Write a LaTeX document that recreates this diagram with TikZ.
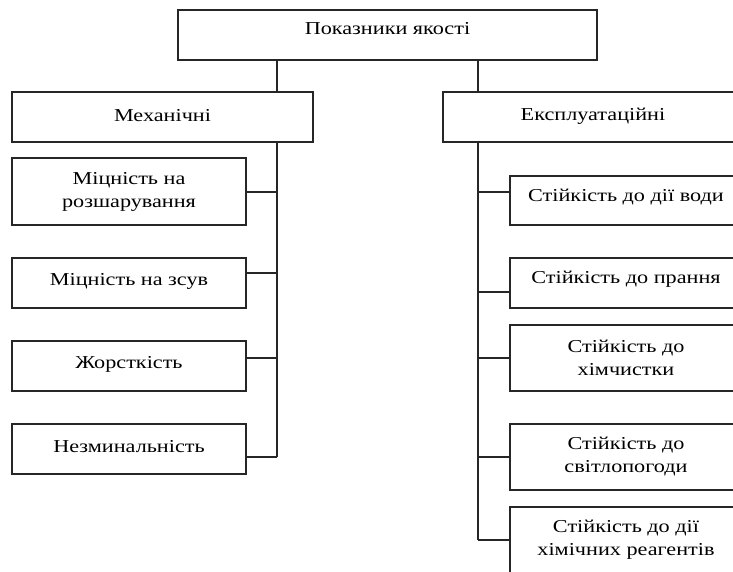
\documentclass[tikz,border=0pt]{standalone}
\usepackage{fontspec}
\setmainfont{Liberation Serif}[FakeStretch=1.22]
\begin{document}
\begin{tikzpicture}[x=1pt,y=-1pt,
  box/.style={draw=black!85,line width=1.1pt,align=center,inner sep=0pt,
    font=\fontsize{18.2}{23}\selectfont},
  tb/.style={text height=12pt,text depth=#1},
  conn/.style={draw=black!85,line width=1.1pt}]
\useasboundingbox (0,0) rectangle (733,571);
\clip (0,0) rectangle (733,571);
\node[box,tb=13pt,minimum width=419,minimum height=50] (top) at (387.5,35) {Показники якості};
\node[box,tb=3pt,minimum width=301,minimum height=50] (mech) at (162.5,117) {Механічні};
\node[box,tb=6pt,minimum width=300,minimum height=50] (eksp) at (593,117) {Експлуатаційні};
% left
\node[box,minimum width=234,minimum height=67] (l1) at (129,191.5) {Міцність на\\розшарування};
\node[box,tb=8pt,minimum width=234,minimum height=50] (l2) at (129,283) {Міцність на зсув};
\node[box,tb=7pt,minimum width=234,minimum height=50] (l3) at (129,366) {Жорсткість};
\node[box,tb=6pt,minimum width=234,minimum height=50] (l4) at (129,449) {Незминальність};
% right
\node[box,tb=11pt,minimum width=232,minimum height=49] (r1) at (626,200.5) {Стійкість до дії води};
\node[box,tb=11pt,minimum width=232,minimum height=50] (r2) at (626,283) {Стійкість до прання};
\node[box,minimum width=232,minimum height=66] (r3) at (626,358) {Стійкість до\\хімчистки};
\node[box,minimum width=232,minimum height=66] (r4) at (626,457) {Стійкість до\\світлопогоди};
\node[box,minimum width=232,minimum height=66] (r5) at (626,540) {Стійкість до дії\\хімічних реагентів};
% trunk coordinates
\coordinate (ta) at (277,60);
\coordinate (tb) at (478,60);
\coordinate (lt) at (277,142);
\coordinate (lb) at (277,457);
\coordinate (rt) at (478,142);
\coordinate (rb) at (478,540);
\draw[conn] (ta) -- (ta |- mech.north);
\draw[conn] (tb) -- (tb |- eksp.north);
\draw[conn] (lt) -- (lb);
\draw[conn] (rt) -- (rb);
% left branches
\coordinate (c1) at (277,192); \draw[conn] (c1) -- (c1 -| l1.east);
\coordinate (c2) at (277,273); \draw[conn] (c2) -- (c2 -| l2.east);
\coordinate (c3) at (277,358); \draw[conn] (c3) -- (c3 -| l3.east);
\coordinate (c4) at (277,457); \draw[conn] (c4) -- (c4 -| l4.east);
% right branches
\coordinate (d1) at (478,192); \draw[conn] (d1) -- (d1 -| r1.west);
\coordinate (d2) at (478,292); \draw[conn] (d2) -- (d2 -| r2.west);
\coordinate (d3) at (478,358); \draw[conn] (d3) -- (d3 -| r3.west);
\coordinate (d4) at (478,457); \draw[conn] (d4) -- (d4 -| r4.west);
\coordinate (d5) at (478,540); \draw[conn] (d5) -- (d5 -| r5.west);
\end{tikzpicture}
\end{document}
